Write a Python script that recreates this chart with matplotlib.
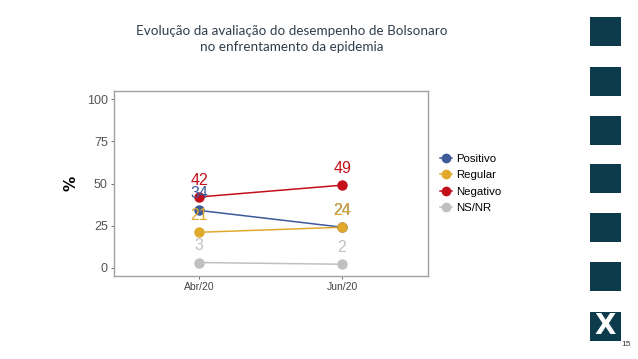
import matplotlib.pyplot as plt
from matplotlib.lines import Line2D
from matplotlib.patches import Rectangle

# dados
periodos = ['Abr/20', 'Jun/20']
positivo = [34, 24]
regular = [21, 24]
negativo = [42, 49]
nsnr = [3, 2]

series = [('Positivo', positivo, '#3d5a99'),
          ('Regular', regular, '#e0a92c'),
          ('Negativo', negativo, '#c4101b'),
          ('NS/NR', nsnr, '#c0c0c0')]

fig = plt.figure(figsize=(6.38, 3.59), dpi=100)
fig.patch.set_facecolor('white')

ax = fig.add_axes([0.1787, 0.2312, 0.492, 0.5153])
x = list(range(1, len(periodos) + 1))

for nome, vals, cor in series:
    ax.plot(x, vals, color=cor, lw=1.1, zorder=2)
    ax.plot(x, vals, 'o', color=cor, ms=6.5, zorder=3)
    for xi, v in zip(x, vals):
        ax.text(xi, v + 10, str(v), color=cor, ha='center', va='center',
                fontsize=11.5, family='Liberation Sans', zorder=4)

ax.set_xlim(0.405, 2.6)
ax.set_ylim(-5, 105)
ax.set_xticks(x)
ax.set_xticklabels(periodos, fontsize=7.5, color='#444444', family='Liberation Sans')
ax.set_yticks([0, 25, 50, 75, 100])
ax.set_yticklabels(['0', '25', '50', '75', '100'], fontsize=9, color='#555555',
                   family='Liberation Sans')
ax.tick_params(length=2.5, width=0.6, color='#555555', pad=2)
for s in ax.spines.values():
    s.set_color('#a0a0a0')
    s.set_linewidth(1.0)
ax.set_ylabel('%', fontsize=11, fontweight='bold', labelpad=6)

# legenda
handles = [Line2D([0], [0], color=c, marker='o', ms=6, lw=1.1) for _, _, c in series]
leg = fig.legend(handles, [s[0] for s in series], loc='upper left',
                 bbox_to_anchor=(0.674, 0.599), frameon=False,
                 handlelength=1.0, handletextpad=0.35, labelspacing=0.55,
                 prop={'family': 'Liberation Sans', 'size': 8.2})

# título
fig.text(0.458, 0.915, 'Evolução da avaliação do desempenho de Bolsonaro',
         ha='center', va='center', fontsize=9.7, color='#2f3e4c', family='Lato')
fig.text(0.458, 0.870, 'no enfrentamento da epidemia',
         ha='center', va='center', fontsize=9.7, color='#2f3e4c', family='Lato')

# quadrados laterais
tops = [17, 67, 116, 164, 213, 262, 312]
for i, t in enumerate(tops):
    r = Rectangle((590 / 638, 1 - (t + 29) / 359), 31 / 638, 29 / 359,
                  transform=fig.transFigure, color='#0d3b4b', lw=0)
    fig.add_artist(r)
fig.text(605.5 / 638, 1 - 326 / 359, 'X', ha='center', va='center', color='white',
         fontsize=20, fontweight='heavy', family='DejaVu Sans')
fig.text(626 / 638, 1 - 345 / 359, '15', ha='center', va='center', fontsize=6,
         color='#333333', family='Liberation Sans')

fig.savefig('out.png', dpi=100)
